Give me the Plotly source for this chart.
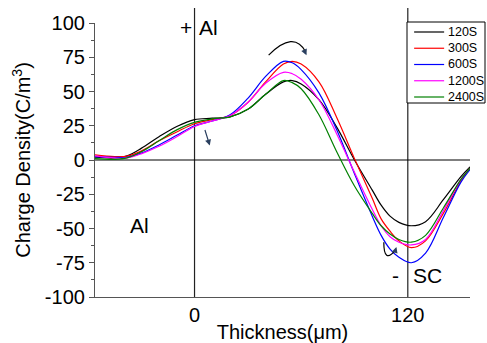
import plotly.graph_objects as go

# ---- data ----
thickness = [-56, -45, -38, -30, -20, -10, 0, 10, 20, 30, 40, 50, 55, 60, 70, 80, 90, 100, 105, 110, 115, 122, 130, 140, 150, 155]

s120 = [2, 1.5, 3, 8.5, 17, 24.5, 29.5, 30.5, 31.5, 37, 48, 57, 58, 55.5, 44, 24, 0, -22, -33, -41, -45.5, -48, -45, -29, -12, -5]
s300 = [3.8, 2.5, 2.8, 6.5, 14, 20.5, 26.5, 29.5, 32.5, 42, 57, 70, 72, 70, 57, 31, 1, -28, -43, -52, -59, -64, -59, -39, -15, -6]
s600 = [2.5, 2, 2, 5, 11, 18, 25, 28.5, 33, 45, 61, 72, 71, 66, 49, 22, -10, -41, -55, -65, -71, -75, -68, -42, -16, -7]
s1200 = [3, 1.5, 1.5, 4.5, 10, 17, 24.5, 28.5, 32.5, 42, 56, 64, 63, 59, 44, 19, -9, -36, -48, -56, -60, -62, -58, -37, -14, -6]
s2400 = [1, 0.5, 1.5, 6, 14, 22, 27.5, 30, 31.5, 37, 48, 58, 56.5, 52, 33, 6, -19, -39, -48, -54, -58, -60, -55, -35, -14, -6]

series_names = ["120S", "300S", "600S", "1200S", "2400S"]
series_values = [s120, s300, s600, s1200, s2400]
series_colors = ["#000000", "#FF0000", "#0000FF", "#FF00FF", "#008000"]

x_ticks = [0, 120]
y_ticks = [-100, -75, -50, -25, 0, 25, 50, 75, 100]
y_tick_labels = [str(v) for v in y_ticks]

FONT = "Liberation Sans, Arial, sans-serif"

fig = go.Figure()
for name, vals, col in zip(series_names, series_values, series_colors):
    fig.add_trace(go.Scatter(x=thickness, y=vals, mode="lines", name=name, showlegend=False,
                             line=dict(color=col, width=1.2, shape="spline", smoothing=1)))

# reference lines
fig.add_shape(type="line", xref="x", yref="y", x0=-56, x1=155, y0=0, y1=0,
              line=dict(color="#000000", width=1.2), layer="below")
for xv in x_ticks:
    fig.add_shape(type="line", xref="x", yref="paper", x0=xv, x1=xv, y0=0, y1=1.055,
                  line=dict(color="#222222", width=1.2), layer="below")

# curved arrow at top
fig.add_shape(type="path", xref="x", yref="y", path="M 41.7,76.6 Q 55.9,95 62.5,79",
              line=dict(color="#000000", width=1.2))
# curved arrow at bottom
fig.add_shape(type="path", xref="x", yref="y", path="M 106.5,-60 Q 106.5,-76 113,-66",
              line=dict(color="#000000", width=1.2))

annotations = [
    dict(x=63, y=76.5, ax=61.8, ay=80, axref="x", ayref="y", xref="x", yref="y",
         showarrow=True, arrowhead=2, arrowsize=1, arrowwidth=1.2, text=""),
    dict(x=113.6, y=-63.5, ax=113, ay=-66, axref="x", ayref="y", xref="x", yref="y",
         showarrow=True, arrowhead=2, arrowsize=1, arrowwidth=1.2, text=""),
    dict(x=8.6, y=10.5, ax=5.6, ay=23, axref="x", ayref="y", xref="x", yref="y",
         showarrow=True, arrowhead=2, arrowsize=1, arrowwidth=1.2, text=""),
    dict(x=-5, y=97, xref="x", yref="y", text="+", showarrow=False,
         font=dict(family=FONT, size=21, color="#000")),
    dict(x=8, y=97, xref="x", yref="y", text="Al", showarrow=False,
         font=dict(family=FONT, size=21, color="#000")),
    dict(x=-31, y=-47.5, xref="x", yref="y", text="Al", showarrow=False,
         font=dict(family=FONT, size=21, color="#000")),
    dict(x=113, y=-84, xref="x", yref="y", text="-", showarrow=False,
         font=dict(family=FONT, size=21, color="#000")),
    dict(x=131, y=-84, xref="x", yref="y", text="SC", showarrow=False,
         font=dict(family=FONT, size=21, color="#000")),
]

# legend box drawn in paper coordinates
fig.add_shape(type="rect", xref="paper", yref="paper", x0=0.832, x1=1.04, y0=0.708, y1=1.0036,
              line=dict(color="#000", width=1), fillcolor="white", layer="above")
for i, (name, col) in enumerate(zip(series_names, series_colors)):
    yy = (297 - (32 + 16.25 * i)) / 274
    fig.add_shape(type="line", xref="paper", yref="paper", x0=0.851, x1=0.931, y0=yy, y1=yy,
                  line=dict(color=col, width=1.2), layer="above")
    annotations.append(dict(x=0.937, y=yy, xref="paper", yref="paper", text=name, showarrow=False,
                            xanchor="left", yanchor="middle",
                            font=dict(family=FONT, size=12.5, color="#000")))

fig.update_layout(
    width=487, height=343,
    margin=dict(l=95, r=17, t=23, b=46, autoexpand=False),
    paper_bgcolor="white", plot_bgcolor="white",
    font=dict(family=FONT, size=20, color="#000"),
    showlegend=False,
    annotations=annotations,
)
fig.update_xaxes(range=[-56, 155], tickvals=x_ticks, ticks="", showgrid=False, zeroline=False,
                 showline=True, linecolor="#555", linewidth=1.2,
                 title=dict(text="Thickness(\u03bcm)", font=dict(size=20), standoff=2),
                 tickfont=dict(size=20))
fig.update_yaxes(range=[-100, 100], tickvals=y_ticks, ticktext=y_tick_labels,
                 ticks="outside", ticklen=5, tickcolor="#555",
                 showgrid=False, zeroline=False, showline=True, linecolor="#555", linewidth=1.2,
                 minor=dict(dtick=12.5, tick0=0, ticks="outside", ticklen=3, tickcolor="#555"),
                 title=dict(text="Charge Density(C/m<sup>3</sup>)", font=dict(size=20), standoff=8),
                 tickfont=dict(size=20))

fig.write_html("out.html")
